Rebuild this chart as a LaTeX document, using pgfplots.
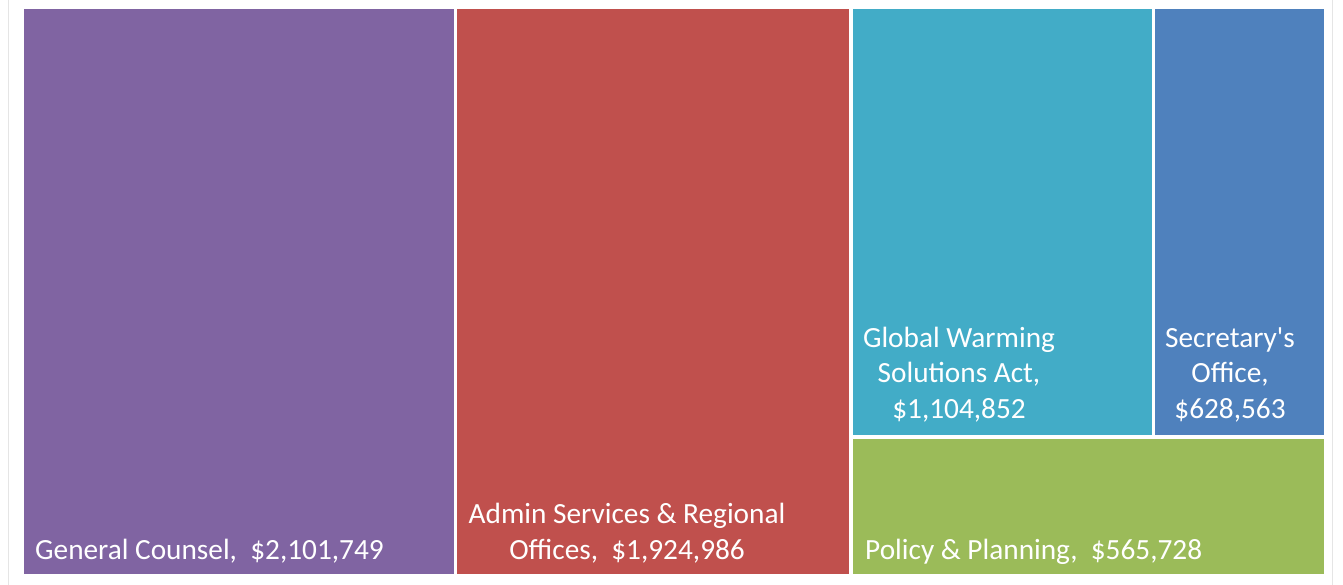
\documentclass[border=0pt]{standalone}
\usepackage{pgfplots}
\pgfplotsset{compat=1.18}
\usepackage{fontspec}
\setmainfont{Carlito}
\definecolor{cPurple}{HTML}{8064A2}
\definecolor{cRed}{HTML}{C0504D}
\definecolor{cTeal}{HTML}{42ACC7}
\definecolor{cBlue}{HTML}{4F81BD}
\definecolor{cGreen}{HTML}{9BBB59}
\tikzset{lbl/.style={text=white, inner sep=0pt, font=\fontsize{29.4}{35.7}\selectfont}}
\begin{document}
\begin{tikzpicture}
\begin{axis}[
  width=1343bp, height=584bp, scale only axis,
  xmin=0, xmax=1343, ymin=0, ymax=584, y dir=reverse,
  hide axis, clip=false,
]
% bounding points
\addplot[draw=none] coordinates {(0,0) (1343,584)};
% faint frame lines
\addplot[draw=black!10, line width=1bp] coordinates {(8,0) (8,584)};
\addplot[draw=black!10, line width=1bp] coordinates {(1332,0) (1332,584)};
% General Counsel, $2,101,749
\addplot[fill=cPurple, draw=none] coordinates {(24,9) (453.5,9) (453.5,573.5) (24,573.5)} --cycle;
% Admin Services & Regional Offices, $1,924,986
\addplot[fill=cRed, draw=none] coordinates {(457,9) (849,9) (849,573.5) (457,573.5)} --cycle;
% Global Warming Solutions Act, $1,104,852
\addplot[fill=cTeal, draw=none] coordinates {(853,9) (1151.5,9) (1151.5,434.5) (853,434.5)} --cycle;
% Secretary's Office, $628,563
\addplot[fill=cBlue, draw=none] coordinates {(1155,9) (1324,9) (1324,434.5) (1155,434.5)} --cycle;
% Policy & Planning, $565,728
\addplot[fill=cGreen, draw=none] coordinates {(853,438) (1324,438) (1324,573.5) (853,573.5)} --cycle;

\node[lbl, anchor=base west] at (axis cs:35,559) {General Counsel,\ \ \$2,101,749};
\node[lbl, anchor=base, align=center] at (axis cs:627,559) {Admin Services \& Regional\\Offices,\ \ \$1,924,986};
\node[lbl, anchor=base, align=center] at (axis cs:959,418) {Global Warming\\Solutions Act,\\\$1,104,852};
\node[lbl, anchor=base, align=center] at (axis cs:1230,418) {Secretary\textquotesingle s\\Office,\\\$628,563};
\node[lbl, anchor=base west] at (axis cs:865,559) {Policy \& Planning,\ \ \$565,728};
\end{axis}
\end{tikzpicture}
\end{document}
